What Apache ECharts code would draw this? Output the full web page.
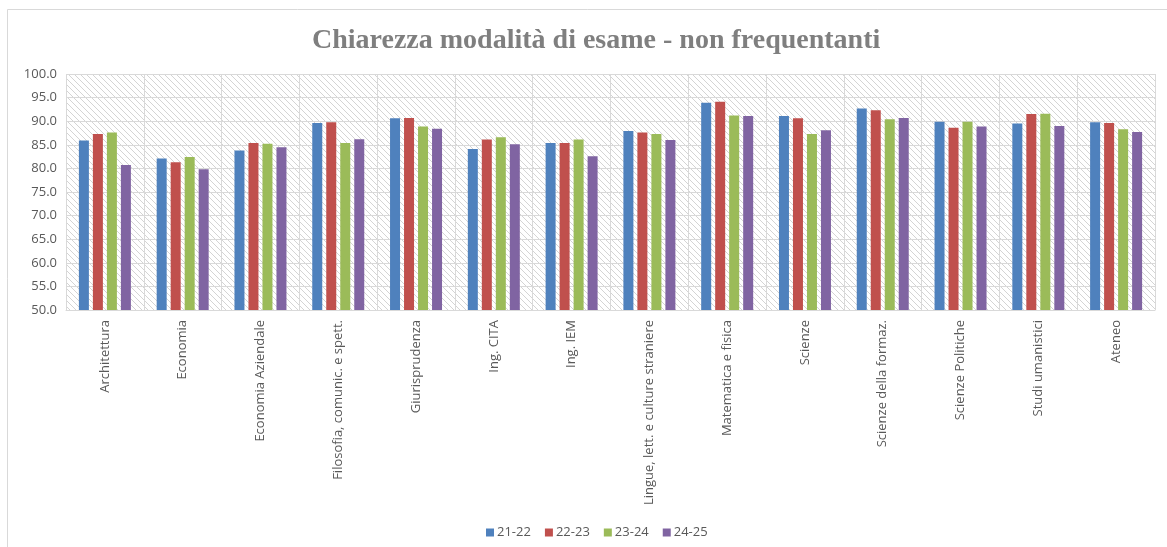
<!DOCTYPE html>
<html>
<head>
<meta charset="utf-8">
<script src="https://cdn.jsdelivr.net/npm/echarts@6/dist/echarts.min.js"></script>
<style>
  html, body { margin: 0; padding: 0; background: #fff; }
  #chart { width: 1167px; height: 547px; }
</style>
</head>
<body>
<div id="chart"></div>
<script>
var categories = [
  "Architettura", "Economia", "Economia Aziendale", "Filosofia, comunic. e spett.",
  "Giurisprudenza", "Ing. CITA", "Ing. IEM", "Lingue, lett. e culture straniere",
  "Matematica e fisica", "Scienze", "Scienze della formaz.", "Scienze Politiche",
  "Studi umanistici", "Ateneo"
];
var seriesNames = ["21-22", "22-23", "23-24", "24-25"];
var values2122 = [85.9, 82.1, 83.8, 89.6, 90.6, 84.1, 85.4, 87.9, 93.9, 91.1, 92.7, 89.9, 89.5, 89.8];
var values2223 = [87.3, 81.3, 85.4, 89.8, 90.7, 86.1, 85.4, 87.6, 94.1, 90.6, 92.3, 88.6, 91.5, 89.6];
var values2324 = [87.6, 82.4, 85.2, 85.4, 88.9, 86.6, 86.1, 87.3, 91.2, 87.3, 90.4, 89.9, 91.6, 88.3];
var values2425 = [80.7, 79.8, 84.5, 86.2, 88.4, 85.1, 82.6, 86.0, 91.1, 88.1, 90.7, 88.9, 89.0, 87.7];
var colors = ["#4F81BD", "#C0504D", "#9BBB59", "#8064A2"];

// hatch pattern for the plot background
var hatch = document.createElement("canvas");
hatch.width = 6;
hatch.height = 6;
var hc = hatch.getContext("2d");
hc.fillStyle = "#ffffff";
hc.fillRect(0, 0, 6, 6);
hc.strokeStyle = "#d4d4d4";
hc.lineWidth = 1;
hc.beginPath();
hc.moveTo(0, 0); hc.lineTo(6, 6);
hc.moveTo(-3, 3); hc.lineTo(3, 9);
hc.moveTo(3, -3); hc.lineTo(9, 3);
hc.stroke();

var allValues = [values2122, values2223, values2324, values2425];
var series = [];
for (var i = 0; i < seriesNames.length; i++) {
  series.push({
    name: seriesNames[i],
    type: "bar",
    data: allValues[i],
    barWidth: 10,
    barGap: "40%",
    itemStyle: { color: colors[i] }
  });
}

var myChart = echarts.init(document.getElementById("chart"));
var option = {
  backgroundColor: "#ffffff",
  animation: false,
  color: colors,
  title: {
    text: "Chiarezza modalità di esame - non frequentanti",
    left: 307,
    top: 22,
    textStyle: {
      fontFamily: "Liberation Serif",
      fontSize: 28,
      fontWeight: "bold",
      color: "#7f7f7f"
    }
  },
  graphic: [{
    type: "rect",
    shape: { x: 7.5, y: 9.5, width: 1170, height: 560 },
    style: { fill: null, stroke: "#d9d9d9", lineWidth: 1 },
    silent: true
  }],
  legend: {
    data: seriesNames,
    top: 521,
    left: 481,
    itemWidth: 8,
    itemHeight: 8,
    itemGap: 14,
    icon: "rect",
    textStyle: { fontSize: 13, color: "#595959", fontFamily: "Open Sans", padding: [0, 0, 0, -2] }
  },
  grid: {
    show: true,
    left: 66,
    right: 12,
    top: 74,
    bottom: 237,
    borderWidth: 0,
    backgroundColor: { image: hatch, repeat: "repeat" }
  },
  xAxis: {
    type: "category",
    data: categories,
    axisLine: { show: true, lineStyle: { color: "#d9d9d9", width: 1 } },
    axisTick: { show: false },
    splitLine: { show: true, interval: 0, lineStyle: { color: "#d9d9d9", width: 1 } },
    axisLabel: {
      interval: 0,
      rotate: 90,
      margin: 10,
      fontSize: 13,
      color: "#595959",
      fontFamily: "Open Sans"
    }
  },
  yAxis: {
    type: "value",
    min: 50,
    max: 100,
    interval: 5,
    axisLine: { show: false },
    axisTick: { show: false },
    splitLine: { show: true, lineStyle: { color: "#d9d9d9", width: 1 } },
    axisLabel: {
      formatter: function (v) { return v.toFixed(1); },
      fontSize: 13,
      color: "#595959",
      margin: 9,
      fontFamily: "Open Sans"
    }
  },
  series: series
};
myChart.setOption(option);
</script>
</body>
</html>
